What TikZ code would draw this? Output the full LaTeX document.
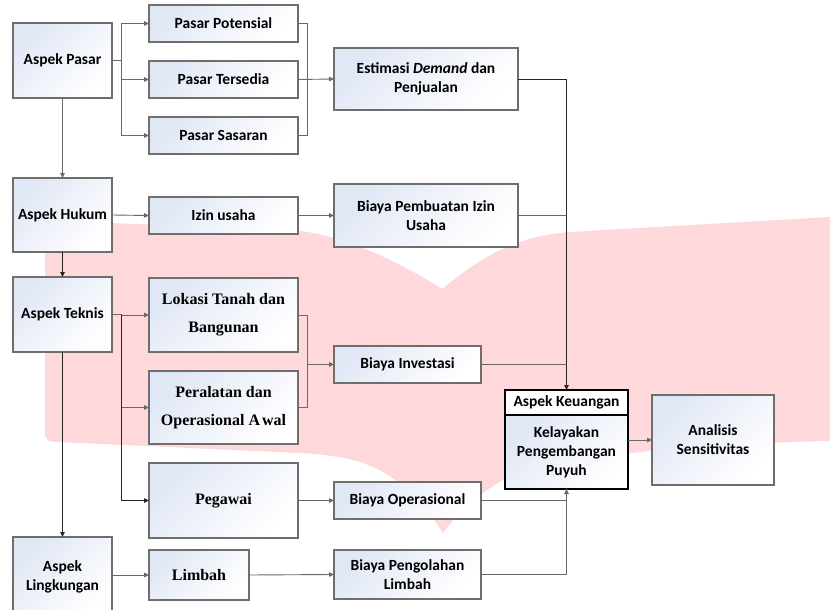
\documentclass[tikz,border=0pt]{standalone}
\usepackage{fontspec}
\setmainfont{Liberation Serif}
\newfontfamily\calfont{Carlito}
\usetikzlibrary{arrows.meta}
\definecolor{pinkwm}{RGB}{255,216,220}
\definecolor{boxblue}{RGB}{224,231,245}
\definecolor{lngray}{RGB}{105,105,105}
\definecolor{bordergray}{RGB}{110,110,110}
\tikzset{
  box/.style={draw=bordergray, line width=1.1pt, top color=boxblue, bottom color=white, shading angle=45,
    inner sep=0pt, outer sep=0pt, align=center, font=\calfont\bfseries\fontsize{15.5}{19}\selectfont},
  serifbox/.style={box, font=\bfseries\fontsize{16}{28}\selectfont},
  ln/.style={draw=lngray, line width=0.9pt},
  arr/.style={ln, -{Triangle[length=5pt,width=4.5pt]}},
  blk/.style={draw=black!85, line width=0.9pt},
  blkarr/.style={blk, -{Triangle[length=5pt,width=4.5pt]}},
}
\begin{document}
\begin{tikzpicture}[x=1pt,y=-1pt]
\useasboundingbox (0,0) rectangle (830,610);
\clip (0,0) rectangle (830,610);
\fill[white] (0,0) rectangle (830,610);
% watermark
\fill[pinkwm] (45,232) .. controls (45,223) and (48,221) .. (58,221)
  -- (290,230) .. controls (340,233) and (400,262) .. (442,289)
  .. controls (480,258) and (515,236) .. (570,232)
  -- (830,217) -- (830,441)
  .. controls (720,443) and (580,452) .. (507,478)
  .. controls (480,492) and (455,515) .. (443,533)
  .. controls (425,505) and (400,475) .. (360,462)
  .. controls (345,457) and (320,454) .. (300,453)
  -- (58,442) .. controls (48,442) and (45,440) .. (45,432) -- cycle;

% left column
\node[box, minimum width=99pt, minimum height=75pt] (pasar) at (62.5,60.5) {Aspek Pasar};
\node[box, minimum width=99pt, minimum height=74pt] (hukum) at (62.5,215) {Aspek Hukum};
\node[box, minimum width=99pt, minimum height=75pt] (teknis) at (62.5,314.5) {Aspek Teknis};
\node[box, minimum width=99pt, minimum height=80pt] (lingk) at (62.5,577) {Aspek\\Lingkungan};
% second column
\node[box, minimum width=149pt, minimum height=37pt] (potensial) at (223.5,23.5) {Pasar Potensial};
\node[box, minimum width=149pt, minimum height=37pt] (tersedia) at (223.5,79.5) {Pasar Tersedia};
\node[box, minimum width=149pt, minimum height=37pt] (sasaran) at (223.5,135.5) {Pasar Sasaran};
\node[box, minimum width=149pt, minimum height=37pt] (izin) at (223.5,215.5) {Izin usaha};
\node[serifbox, minimum width=149pt, minimum height=74pt] (lokasi) at (223.5,315) {Lokasi Tanah dan\\Bangunan};
\node[serifbox, minimum width=149pt, minimum height=73pt] (peralatan) at (223.5,407.5) {Peralatan dan\\Operasional A\kern2pt wal};
\node[serifbox, minimum width=149pt, minimum height=75pt] (pegawai) at (223.5,500.5) {Pegawai};
\node[serifbox, minimum width=100pt, minimum height=50pt] (limbah) at (199,575) {Limbah};
% third column
\node[box, minimum width=184pt, minimum height=62pt] (estimasi) at (426,79) {Estimasi \textit{Demand} dan\\Penjualan};
\node[box, minimum width=184pt, minimum height=63pt] (pembuatan) at (426,215.5) {Biaya Pembuatan Izin\\Usaha};
\node[box, minimum width=147pt, minimum height=37pt] (investasi) at (407.5,364.5) {Biaya Investasi};
\node[box, minimum width=147pt, minimum height=37pt] (operasional) at (407.5,500.5) {Biaya Operasional};
\node[box, minimum width=147pt, minimum height=49pt] (pengolahan) at (407.5,574.5) {Biaya Pengolahan\\Limbah};
% keuangan
\node[box, draw=black, fill=white, shade=none, minimum width=123pt, minimum height=25pt] (kh) at (566.5,402.5) {Aspek Keuangan};
\node[box, draw=black, minimum width=123pt, minimum height=74pt] (kb) at (566.5,452) {Kelayakan\\Pengembangan\\Puyuh};
\node[box, minimum width=122pt, minimum height=90pt] (analisis) at (713,440) {Analisis\\Sensitivitas};

% connectors: pasar
\draw[arr] (pasar.east) -- ++(9,0) |- (potensial.west);
\draw[arr] (pasar.east) -- ++(9,0) |- (tersedia.west);
\draw[arr] (pasar.east) -- ++(9,0) |- (sasaran.west);
\draw[ln] (potensial.east) -- ++(9,0) |- (sasaran.east);
\draw[arr] (tersedia.east) -- (estimasi.west);
\draw[arr] (pasar.south) -- (hukum.north);
% hukum
\draw[arr] (hukum.east) -- (izin.west);
\draw[arr] (izin.east) -- (pembuatan.west);
\draw[blkarr] (hukum.south) -- (teknis.north);
% teknis
\draw[arr] (teknis.east) -- ++(9,0) |- (lokasi.west);
\draw[arr] (teknis.east) -- ++(9,0) |- (peralatan.west);
\draw[blkarr] (teknis.east) ++(9,0) |- (pegawai.west);
\draw[blkarr] (teknis.south) -- (lingk.north);
\draw[ln] (lokasi.east) -- ++(9,0) |- (peralatan.east);
\coordinate (mj) at ([xshift=9pt]lokasi.east);
\draw[arr] (mj |- investasi.west) -- (investasi.west);
% lower rows
\draw[arr] (pegawai.east) -- (operasional.west);
\draw[arr] (lingk.east |- limbah.west) -- (limbah.west);
\draw[arr] (limbah.east) -- (pengolahan.west);
% to keuangan
\draw[blkarr] (estimasi.east) -| (kh.north);
\draw[ln] (pembuatan.east) -- (pembuatan.east -| kh.north);
\draw[ln] (investasi.east) -- (investasi.east -| kh.north);
\draw[arr] (operasional.east) -| (kb.south);
\draw[ln] (pengolahan.east) -| (kb.south);
\draw[arr] (kb.east |- analisis.west) -- (analisis.west);
\end{tikzpicture}
\end{document}
